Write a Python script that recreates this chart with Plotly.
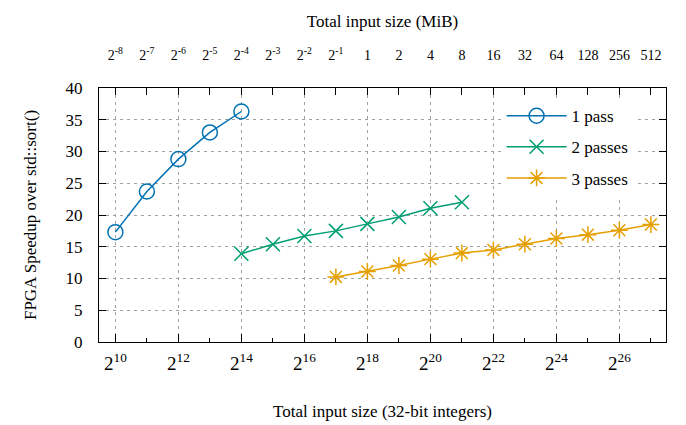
import plotly.graph_objects as go

# Data (x = log2 of number of 32-bit integers)
x_1pass = [10, 11, 12, 13, 14]
y_1pass = [17.3, 23.7, 28.8, 33.0, 36.3]

x_2pass = [14, 15, 16, 17, 18, 19, 20, 21]
y_2pass = [13.9, 15.4, 16.7, 17.5, 18.6, 19.7, 21.05, 22.0]

x_3pass = [17, 18, 19, 20, 21, 22, 23, 24, 25, 26, 27]
y_3pass = [10.25, 11.1, 12.05, 13.05, 14.0, 14.5, 15.4, 16.3, 16.9, 17.6, 18.5]

bottom_tickvals = [10, 12, 14, 16, 18, 20, 22, 24, 26]
bottom_ticktext = ["2<sup>10</sup>", "2<sup>12</sup>", "2<sup>14</sup>", "2<sup>16</sup>",
                   "2<sup>18</sup>", "2<sup>20</sup>", "2<sup>22</sup>", "2<sup>24</sup>",
                   "2<sup>26</sup>"]
top_tickvals = list(range(10, 28))
top_ticktext = ["2<sup>-8</sup>", "2<sup>-7</sup>", "2<sup>-6</sup>", "2<sup>-5</sup>",
                "2<sup>-4</sup>", "2<sup>-3</sup>", "2<sup>-2</sup>", "2<sup>-1</sup>",
                "1", "2", "4", "8", "16", "32", "64", "128", "256", "512"]

FONT = "Liberation Serif"
BLUE = "#0072b2"
GREEN = "#009e73"
ORANGE = "#e69f00"
XR = [9.48, 27.48]

fig = go.Figure()
fig.add_trace(go.Scatter(x=x_1pass, y=y_1pass, name="1 pass", mode="lines+markers",
                         legendgroup="a",
                         line=dict(color=BLUE, width=1.5),
                         marker=dict(symbol="circle-open", size=15, color=BLUE,
                                     line=dict(width=1.5, color=BLUE))))
fig.add_trace(go.Scatter(x=x_2pass, y=y_2pass, name="2 passes", mode="lines+markers",
                         legendgroup="b",
                         line=dict(color=GREEN, width=1.5),
                         marker=dict(symbol="x-thin-open", size=14, color=GREEN,
                                     line=dict(width=1.5, color=GREEN))))
fig.add_trace(go.Scatter(x=x_3pass, y=y_3pass, name="3 passes", mode="lines+markers",
                         legendgroup="c",
                         line=dict(color=ORANGE, width=1.5),
                         marker=dict(symbol="asterisk-open", size=14, color=ORANGE,
                                     line=dict(width=1.5, color=ORANGE))))
# invisible trace to activate the top axis
fig.add_trace(go.Scatter(x=[top_tickvals[0]], y=[0], xaxis="x2", mode="markers",
                         marker=dict(opacity=0), showlegend=False, hoverinfo="skip"))

grid = dict(gridcolor="#a0a0a0", gridwidth=1, griddash="3px,4px")

# page body has an 8px default margin, so the figure is 8px smaller
fig.update_layout(
    width=678, height=417,
    margin=dict(l=91, r=20, t=80, b=83),
    paper_bgcolor="white", plot_bgcolor="white",
    font=dict(family=FONT, size=16, color="black"),
    showlegend=True,
    legend=dict(x=0.71, y=0.96, xanchor="left", yanchor="top",
                bgcolor="white", borderwidth=0,
                font=dict(family=FONT, size=17),
                traceorder="grouped", tracegroupgap=6,
                itemwidth=60),
    xaxis=dict(range=XR, tickmode="array", tickvals=bottom_tickvals,
               ticktext=bottom_ticktext, ticks="inside", ticklen=8, tickwidth=1,
               tickcolor="black", showline=True, linecolor="black", linewidth=1.3,
               mirror=True, zeroline=False, showgrid=True, **grid,
               automargin=False, ticklabelstandoff=4,
               minor=dict(tickmode="array", tickvals=list(range(11, 28, 2)),
                          ticks="inside", ticklen=4, tickcolor="black", showgrid=False),
               tickfont=dict(family=FONT, size=19),
               title=dict(text="Total input size (32-bit integers)",
                          font=dict(family=FONT, size=17), standoff=32)),
    xaxis2=dict(range=XR, overlaying="x", side="top", tickmode="array",
                tickvals=top_tickvals, ticktext=top_ticktext, ticks="inside",
                ticklen=7, tickcolor="black", showgrid=False, zeroline=False,
                showline=False, tickfont=dict(family=FONT, size=14),
                automargin=False, ticklabelstandoff=24,
                title=dict(text="Total input size (MiB)",
                           font=dict(family=FONT, size=17), standoff=13)),
    yaxis=dict(range=[0, 40], tickmode="array", tickvals=list(range(0, 41, 5)),
               ticks="inside", ticklen=7, tickcolor="black", showline=True,
               linecolor="black", linewidth=1.3, mirror="ticks", zeroline=False,
               showgrid=True, **grid, tickfont=dict(family=FONT, size=17),
               automargin=False, ticklabelstandoff=12,
               title=dict(text="FPGA Speedup over std::sort()",
                          font=dict(family=FONT, size=17), standoff=24)),
)

fig.write_html("out.html")
